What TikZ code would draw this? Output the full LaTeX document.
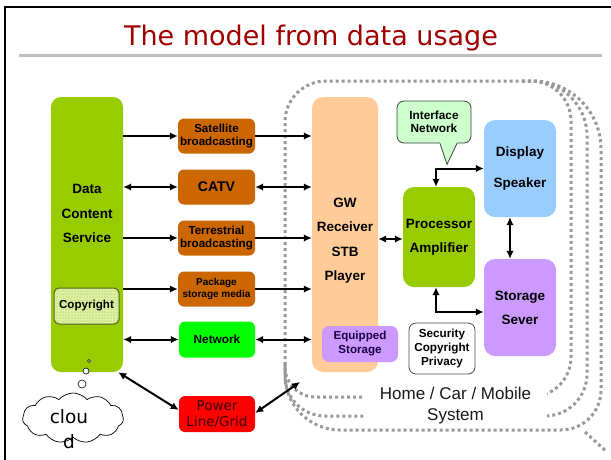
\documentclass[tikz,border=0pt]{standalone}
\usepackage{fontspec}
\setmainfont{Liberation Sans}
\newfontfamily\dejavu{DejaVu Sans}
\usetikzlibrary{arrows.meta,shapes.symbols,patterns,calc}
\definecolor{dgreen}{HTML}{99CC00}
\definecolor{orng}{HTML}{CC6600}
\definecolor{peach}{HTML}{FFCC99}
\definecolor{lblue}{HTML}{99CCFF}
\definecolor{purp}{HTML}{CC99FF}
\definecolor{netgreen}{HTML}{00FF00}
\definecolor{pwred}{HTML}{FF0000}
\definecolor{ifgreen}{HTML}{CCFFCC}
\definecolor{cpfill}{HTML}{DDEFA0}
\definecolor{cpdots}{HTML}{8FAF3A}
\definecolor{cpborder}{HTML}{4F5F1F}
\definecolor{titlered}{HTML}{A00000}
\definecolor{dotgray}{HTML}{999999}
\definecolor{rulegray}{HTML}{BFBFBF}
\definecolor{pwtext}{HTML}{3A0000}
\definecolor{eqtext}{HTML}{1A0040}
\newcommand\myfs[2]{\fontsize{#1}{#2}\selectfont}
\begin{document}
\begin{tikzpicture}[x=1pt,y=-1pt,
  tipa/.tip={Latex[length=8pt,width=7.5pt]},
  sarr/.style={line width=2pt,-tipa},
  darr/.style={line width=2pt,tipa-tipa},
  dotl/.style={draw=dotgray,line width=3pt,dash pattern=on 3pt off 3pt},
  boxbase/.style={inner sep=0pt,align=center},
  obox/.style={boxbase,fill=orng,rounded corners=6pt,minimum width=77,minimum height=35,font=\bfseries\myfs{11.6}{13.3}},
  bigbox/.style={boxbase,rounded corners=11pt,minimum width=72},
  lbl/.style={inner sep=0pt,align=center}
]
\useasboundingbox (0,0) rectangle (611,459);
\fill[white] (0,0) rectangle (611,459);
% frame
\draw[line width=2pt] (5,462) -- (5,7) -- (614,7);
% title
\node[anchor=base,font=\dejavu\myfs{27}{30},text=titlered,inner sep=0pt] (title) at (311,45.7) {The model from data usage};
\draw[rulegray,line width=3pt] (19,55) -- (602,55);

% dotted system outlines
\draw[dotl] (285,240) [rounded corners=41pt] -- (285,81) -- (430,81) [rounded corners=40pt] -- (571,81) -- (571,397) -- (430,397) [rounded corners=30pt] -- (285,397) -- cycle;
\draw[dotl] (522,81) [rounded corners=55pt] -- (587,81) -- (587,250) [rounded corners=42pt] -- (587,416) -- (430,416) [rounded corners=40pt] -- (285,416) -- (285,362);
\draw[dotl] (522,81) [rounded corners=68pt] -- (601,81) -- (601,250) [rounded corners=40pt] -- (601,430) -- (430,430) [rounded corners=55pt] -- (285,430) -- (285,362);
\draw[dotl] (585,432) -- (607,452);
\node[fill=white,inner sep=0pt,minimum width=183,minimum height=42,align=center,
      font=\myfs{17}{21},text=black!90] (home) at (455.5,405.5) {Home / Car / Mobile\\System};

% left column
\node[bigbox,fill=dgreen,rounded corners=10pt,minimum height=275] (data) at (87,234.5) {};
\node[lbl,font=\bfseries\myfs{13.5}{24.5}] (datatxt) at (87,213.5) {Data\\Content\\Service};
\node[boxbase,draw=cpborder,line width=1pt,fill=cpfill,rounded corners=5pt,minimum width=65,minimum height=36,
      postaction={pattern=dots,pattern color=cpdots},font=\bfseries\myfs{11.6}{13}] (copy) at (86.5,306) {Copyright};

% transport boxes
\node[obox] (sat) at (216.5,136) {Satellite\\broadcasting};
\node[obox,font=\bfseries\myfs{14}{16}] (catv) at (216.5,187) {CATV};
\node[obox] (ter) at (216.5,238) {Terrestrial\\broadcasting};
\node[obox,font=\bfseries\myfs{10}{12}] (pkg) at (216.5,289) {Package\\storage media};
\node[obox,fill=netgreen,minimum width=76,minimum height=36,font=\bfseries\myfs{11.8}{14}] (net) at (217,339.5) {Network};
\node[obox,fill=pwred,minimum width=76,minimum height=36,font=\dejavu\myfs{13.5}{15.7},text=pwtext] (power) at (217,414) {Power\\Line/Grid};

% gateway
\node[bigbox,fill=peach,minimum width=66,minimum height=275] (gw) at (345,234.5) {};
\node[lbl,font=\bfseries\myfs{13.5}{24.5}] (gwtxt) at (345,240.5) {GW\\Receiver\\STB\\Player};
\node[boxbase,fill=purp,rounded corners=7pt,minimum width=76,minimum height=36,font=\bfseries\myfs{11.6}{14},text=eqtext] (equip) at (360,344) {Equipped\\Storage};

% interface callout
\node[boxbase,draw=black!75,line width=0.8pt,fill=ifgreen,rounded corners=7pt,minimum width=74,minimum height=42,font=\bfseries\myfs{11.8}{13.3}] (inet) at (434,122) {Interface\\Network};
\fill[ifgreen] ($(inet.south)+(6,-1.2)$) -- ($(inet.south)+(13,21)$) -- ($(inet.south)+(23,-1.2)$) -- cycle;
\draw[black!75,line width=0.8pt] ($(inet.south)+(6,0)$) -- ($(inet.south)+(13,21)$) -- ($(inet.south)+(23,0)$);

% processing side
\node[bigbox,fill=dgreen,minimum height=100,font=\bfseries\myfs{13.5}{24}] (proc) at (439,237) {Processor\\Amplifier};
\node[bigbox,fill=lblue,minimum height=97,font=\bfseries\myfs{13.5}{31}] (disp) at (520,168.5) {Display\\Speaker};
\node[bigbox,fill=purp,minimum height=97,font=\bfseries\myfs{13.5}{24}] (stor) at (520,307.5) {Storage\\Sever};
\node[boxbase,draw=black!70,line width=0.8pt,fill=white,rounded corners=7pt,minimum width=66,minimum height=51,font=\bfseries\myfs{11.7}{14}] (sec) at (442,348.5) {Security\\Copyright\\Privacy};

% cloud
\node[cloud,draw,fill=white,line width=0.7pt,cloud puffs=11,cloud puff arc=100,aspect=2,minimum width=101,minimum height=50,inner sep=0pt] (cloud) at (73,418) {};
\node[lbl,font=\dejavu\myfs{18.5}{25}] (cloudtxt) at (69,429) {clou\\d};
\node[circle,draw,fill=white,line width=0.6pt,inner sep=0pt,minimum size=3] (b1) at (89,361) {};
\node[circle,draw,fill=white,line width=0.6pt,inner sep=0pt,minimum size=6] (b2) at (86,371) {};
\node[circle,draw,fill=white,line width=0.6pt,inner sep=0pt,minimum size=8] (b3) at (82,384) {};

% named free points
\coordinate (gpy) at (0,239);
\coordinate (spy) at (0,312);
\coordinate (gwend) at (300,382);

% arrows data -> transports
\draw[sarr] (data.east |- sat.west) -- (sat.west);
\draw[darr] (data.east |- catv.west) -- (catv.west);
\draw[sarr] (data.east |- ter.west) -- (ter.west);
\draw[sarr] (data.east |- pkg.west) -- (pkg.west);
\draw[darr] (data.east |- net.west) -- (net.west);
% transports -> gateway
\draw[sarr] (sat.east) -- (sat.east -| gw.west);
\draw[darr] (catv.east) -- (catv.east -| gw.west);
\draw[sarr] (ter.east) -- (ter.east -| gw.west);
\draw[sarr] (pkg.east) -- (pkg.east -| gw.west);
\draw[darr] (net.east) -- (net.east -| gw.west);
% power line
\draw[darr] ([xshift=-5pt]data.south east) -- ([yshift=4pt]power.west);
\draw[darr] ([yshift=1pt]power.east) -- (gwend);
% inner system
\draw[darr] (gw.east |- gpy) -- (proc.west |- gpy);
\draw[darr] ([xshift=-3pt]proc.north) |- (disp.west);
\draw[darr] ([xshift=-3pt]proc.south) |- (stor.west |- spy);
\draw[darr] ([xshift=-10pt]disp.south) -- ([xshift=-10pt]stor.north);
\end{tikzpicture}
\end{document}
